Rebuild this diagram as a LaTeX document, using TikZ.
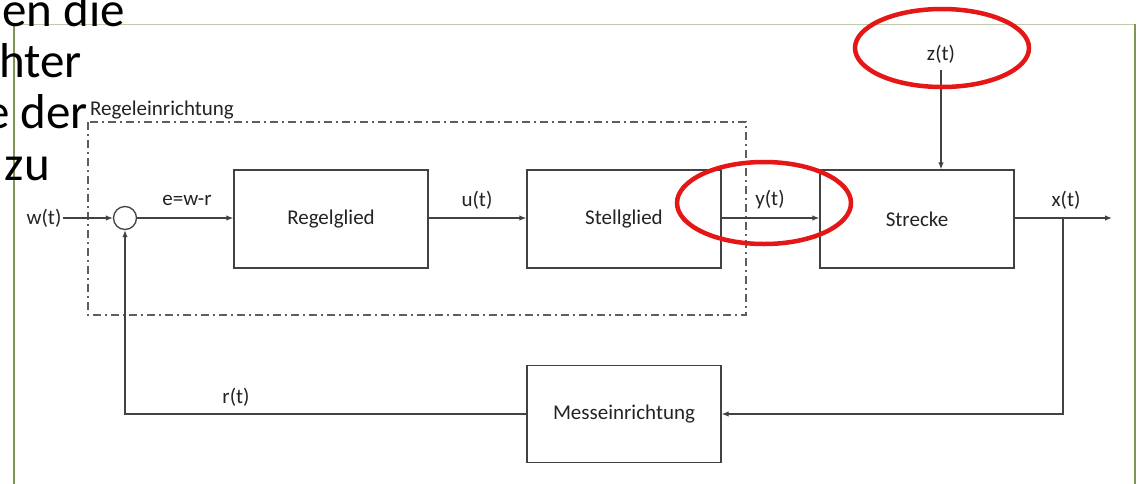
\documentclass[tikz,border=0pt]{standalone}
\usepackage{fontspec}
\setmainfont{Carlito}
\usetikzlibrary{arrows.meta}
\definecolor{framegreen}{RGB}{128,150,86}
\definecolor{frametop}{RGB}{192,202,172}
\definecolor{linegrey}{RGB}{66,66,66}
\definecolor{textgrey}{RGB}{35,35,35}
\definecolor{markred}{RGB}{228,22,22}
\tikzset{
  blockbox/.style={draw=linegrey, line width=1.3pt, minimum width=194pt, minimum height=98pt,
    inner sep=0pt, font=\fontsize{21}{23}\selectfont, text=textgrey},
  sig/.style={font=\fontsize{21}{23}\selectfont, text=textgrey, inner sep=1pt},
  flow/.style={draw=linegrey, line width=1.3pt, -{Latex[length=7pt,width=5.5pt]}},
  wire/.style={draw=linegrey, line width=1.3pt},
  groupbox/.style={draw=linegrey!85, line width=1.2pt, dash pattern=on 8pt off 4pt on 2pt off 4pt},
  marker/.style={draw=markred, line width=4.5pt},
  slidetext/.style={font=\fontsize{49}{54}\selectfont, text=black, inner sep=0pt}
}
\begin{document}
\begin{tikzpicture}[x=1pt,y=-1pt]
\useasboundingbox (0,0) rectangle (1141,483);
\fill[white] (0,0) rectangle (1141,483);

% sheet frame
\draw[frametop, line width=1pt] (14,24) -- (1135,24);
\draw[framegreen, line width=2.2pt] (14,24) -- (14,490);
\draw[framegreen, line width=2.2pt] (1135,24) -- (1135,490);

% slide text lines behind the sheet
\node[slidetext, anchor=base east] (t1) at (125,26) {en die};
\node[slidetext, anchor=base east] (t2) at (82,77) {hter};
\node[slidetext, anchor=base east] (t3) at (88,128) {e der};
\node[slidetext, anchor=base east] (t4) at (50,180) {zu};

% controller group
\draw[groupbox] (88,122) rectangle (746,315);
\node[sig, anchor=base west] (grp) at (89,115) {Regeleinrichtung};

% blocks
\node[draw=linegrey, line width=1.3pt, circle, minimum size=23pt, inner sep=0pt] (sum) at (125,218) {};
\node[blockbox] (regel) at (331,219) {Regelglied};
\node[blockbox] (stell) at (624,219) {Stellglied};
\node[blockbox] (strecke) at (917,219) {Strecke};
\node[blockbox, minimum height=97pt] (mess) at (624,414) {Messeinrichtung};

% signals
\node[sig] (w) at (44,218) {w(t)};
\node[sig] (e) at (187,200) {e=w-r};
\node[sig] (u) at (477,200) {u(t)};
\node[sig] (y) at (770,200) {y(t)};
\node[sig] (x) at (1066,200) {x(t)};
\node[sig] (z) at (941,54) {z(t)};
\node[sig] (r) at (236,397) {r(t)};
\coordinate (out) at (1112,218);
\coordinate (branch) at (1063,218);

% connections
\draw[flow] (w.east) -- (sum.west);
\draw[flow] (sum.east) -- (sum.east -| regel.west);
\draw[flow] (regel.east |- sum.east) -- (sum.east -| stell.west);
\draw[flow] (stell.east |- sum.east) -- (sum.east -| strecke.west);
\draw[flow] (strecke.east |- sum.east) -- (out);
\draw[flow, shorten <=6pt] (z.south) -- (z.south |- strecke.north);
\draw[flow] (branch) |- (mess.east);
\draw[flow] (mess.west) -| (sum.south);

% highlight marks
\draw[marker] (942,48) ellipse [x radius=87, y radius=39];
\draw[marker] (764,203) ellipse [x radius=87, y radius=41];
\end{tikzpicture}
\end{document}
